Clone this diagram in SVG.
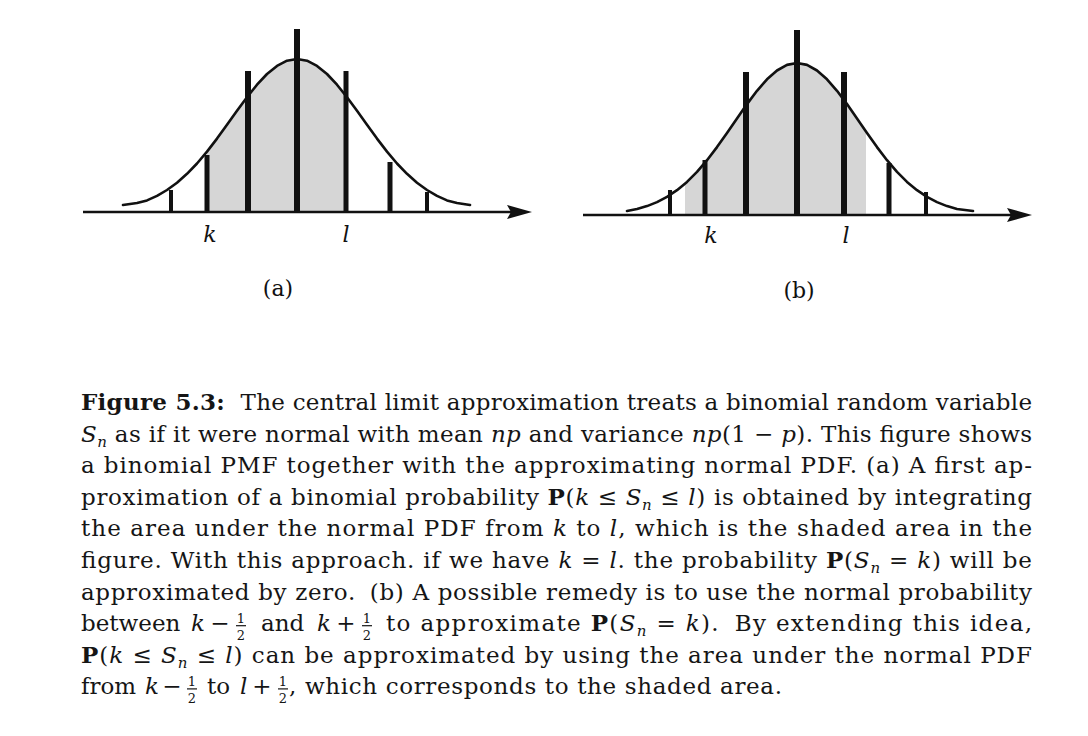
<svg xmlns="http://www.w3.org/2000/svg" width="1088" height="736" viewBox="0 0 1088 736">
<style>
.curve{fill:none;stroke:#111;stroke-width:2.6;stroke-linejoin:round;stroke-linecap:round}
.axis{stroke:#111;stroke-width:2.6}
.shade{fill:#d6d6d6}
.bar{fill:#111}
.arrow{fill:#111}
.lab{font-family:"DejaVu Serif",serif;font-size:22px;fill:#111}
.c{font-family:"DejaVu Serif",serif;font-size:23px;fill:#151515}
.i{font-style:italic}
.b{font-weight:bold}
.s{font-size:15px}
.f{font-family:"DejaVu Serif",serif;font-size:13px;fill:#151515;text-anchor:middle}
.fb{stroke:#151515;stroke-width:1.2}
.m{text-anchor:middle}
</style>
<rect width="1088" height="736" fill="#ffffff"/>

<g id="panel-a">
<polygon class="shade" points="207,212 207,151.6 217,138.6 227,124.8 237,110.8 247,97.2 257,84.7 267,74 277,65.9 287,60.7 297,59 307,60.7 317,65.9 327,74 337,84.7 346,95.9 346,212"/>
<polyline class="curve" points="123,205 137,203 147,200.4 157,195.9 167,190 177,182.7 187,173.8 197,163.5 207,151.6 217,138.6 227,124.8 237,110.8 247,97.2 257,84.7 267,74 277,65.9 287,60.7 297,59 307,60.7 317,65.9 327,74 337,84.7 347,97.2 357,110.8 367,124.8 377,138.6 387,151.6 397,163.5 407,173.8 417,182.7 427,190 437,195.9 447,200.4 457,203 470,205"/>
<line class="axis" x1="83" y1="212" x2="512" y2="212"/>
<polygon class="arrow" points="532,212 507,205 511,212 507,219"/>
<rect class="bar" x="169" y="190" width="4" height="22"/>
<rect class="bar" x="204.5" y="155" width="5" height="57"/>
<rect class="bar" x="245" y="71" width="6" height="141"/>
<rect class="bar" x="294" y="29" width="6" height="183"/>
<rect class="bar" x="343.5" y="71" width="5" height="141"/>
<rect class="bar" x="387.5" y="162" width="5" height="50"/>
<rect class="bar" x="425" y="192" width="4" height="20"/>
<text class="lab i m" x="210" y="242">k</text>
<text class="lab i m" x="346" y="242">l</text>
<text class="lab m" x="278" y="296" font-size="24">(a)</text>
</g>

<g id="panel-b">
<polygon class="shade" points="685,215 685,183.7 687,181.9 697,171.9 707,160.2 717,147.1 727,133 737,118.4 747,104.1 757,90.8 767,79.3 777,70.5 787,64.9 797,63 807,64.9 817,70.5 827,79.3 837,90.8 847,104.1 857,118.4 866,131.6 866,215"/>
<polyline class="curve" points="627,211 637,209 647,206.1 657,202.1 667,196.9 677,190.2 687,181.9 697,171.9 707,160.2 717,147.1 727,133 737,118.4 747,104.1 757,90.8 767,79.3 777,70.5 787,64.9 797,63 807,64.9 817,70.5 827,79.3 837,90.8 847,104.1 857,118.4 867,133 877,147.1 887,160.2 897,171.9 907,181.9 917,190.2 927,196.9 937,202.1 947,206.1 957,209 973,211"/>
<line class="axis" x1="583" y1="215" x2="1012" y2="215"/>
<polygon class="arrow" points="1032,215 1007,208 1011,215 1007,222"/>
<rect class="bar" x="668" y="190" width="4" height="25"/>
<rect class="bar" x="702.5" y="160" width="5" height="55"/>
<rect class="bar" x="743" y="72" width="6" height="143"/>
<rect class="bar" x="794" y="30" width="6" height="185"/>
<rect class="bar" x="841" y="72" width="6" height="143"/>
<rect class="bar" x="886.5" y="163" width="5" height="52"/>
<rect class="bar" x="924" y="192" width="4" height="23"/>
<text class="lab i m" x="711" y="243">k</text>
<text class="lab i m" x="846" y="243">l</text>
<text class="lab m" x="799" y="298" font-size="24">(b)</text>
</g>

<g id="caption">
<text class="c" x="81" y="410" textLength="951" lengthAdjust="spacing"><tspan class="b">Figure 5.3:</tspan><tspan dx="8"> The central limit approximation treats a binomial random variable</tspan></text>
<text class="c" x="81" y="441.6" textLength="951" lengthAdjust="spacing"><tspan class="i">S</tspan><tspan class="i s" dy="5">n</tspan><tspan dy="-5"> as if it were normal with mean </tspan><tspan class="i">np</tspan> and variance <tspan class="i">np</tspan>(1 − <tspan class="i">p</tspan>). This figure shows</text>
<text class="c" x="81" y="473.2" textLength="951" lengthAdjust="spacing">a binomial PMF together with the approximating normal PDF. (a) A first ap-</text>
<text class="c" x="81" y="504.8" textLength="951" lengthAdjust="spacing">proximation of a binomial probability <tspan class="b">P</tspan>(<tspan class="i">k</tspan> ≤ <tspan class="i">S</tspan><tspan class="i s" dy="5">n</tspan><tspan dy="-5"> ≤ </tspan><tspan class="i">l</tspan>) is obtained by integrating</text>
<text class="c" x="81" y="536.4" textLength="951" lengthAdjust="spacing">the area under the normal PDF from <tspan class="i">k</tspan> to <tspan class="i">l</tspan>, which is the shaded area in the</text>
<text class="c" x="81" y="568" textLength="951" lengthAdjust="spacing">figure. With this approach. if we have <tspan class="i">k</tspan> = <tspan class="i">l</tspan>. the probability <tspan class="b">P</tspan>(<tspan class="i">S</tspan><tspan class="i s" dy="5">n</tspan><tspan dy="-5"> = </tspan><tspan class="i">k</tspan>) will be</text>
<text class="c" x="81" y="599.6" textLength="951" lengthAdjust="spacing">approximated by zero.<tspan dx="6"> (b) A possible remedy is to use the normal probability</tspan></text>

<text class="c" x="81" y="631.2">between</text>
<text class="c i" x="191" y="631.2">k</text>
<text class="c m" x="220" y="631.2">−</text>
<text class="f" x="241" y="623.2">1</text>
<line class="fb" x1="236" y1="625.7" x2="246" y2="625.7"/>
<text class="f" x="241" y="639.7">2</text>
<text class="c" x="261" y="631.2">and</text>
<text class="c i" x="317" y="631.2">k</text>
<text class="c m" x="346" y="631.2">+</text>
<text class="f" x="367" y="623.2">1</text>
<line class="fb" x1="362" y1="625.7" x2="372" y2="625.7"/>
<text class="f" x="367" y="639.7">2</text>
<text class="c" x="386" y="631.2" textLength="646" lengthAdjust="spacing">to approximate <tspan class="b">P</tspan>(<tspan class="i">S</tspan><tspan class="i s" dy="5">n</tspan><tspan dy="-5"> = </tspan><tspan class="i">k</tspan>).<tspan dx="6"> By extending this idea,</tspan></text>

<text class="c" x="81" y="662.8" textLength="951" lengthAdjust="spacing"><tspan class="b">P</tspan>(<tspan class="i">k</tspan> ≤ <tspan class="i">S</tspan><tspan class="i s" dy="5">n</tspan><tspan dy="-5"> ≤ </tspan><tspan class="i">l</tspan>) can be approximated by using the area under the normal PDF</text>

<text class="c" x="81" y="694.4">from</text>
<text class="c i" x="145" y="694.4">k</text>
<text class="c m" x="172" y="694.4">−</text>
<text class="f" x="192" y="686.4">1</text>
<line class="fb" x1="187" y1="688.9" x2="197" y2="688.9"/>
<text class="f" x="192" y="702.9">2</text>
<text class="c" x="207" y="694.4">to</text>
<text class="c i" x="240" y="694.4">l</text>
<text class="c m" x="262" y="694.4">+</text>
<text class="f" x="283" y="686.4">1</text>
<line class="fb" x1="278" y1="688.9" x2="288" y2="688.9"/>
<text class="f" x="283" y="702.9">2</text>
<text class="c" x="289" y="694.4" textLength="493" lengthAdjust="spacing">, which corresponds to the shaded area.</text>
</g>
</svg>
